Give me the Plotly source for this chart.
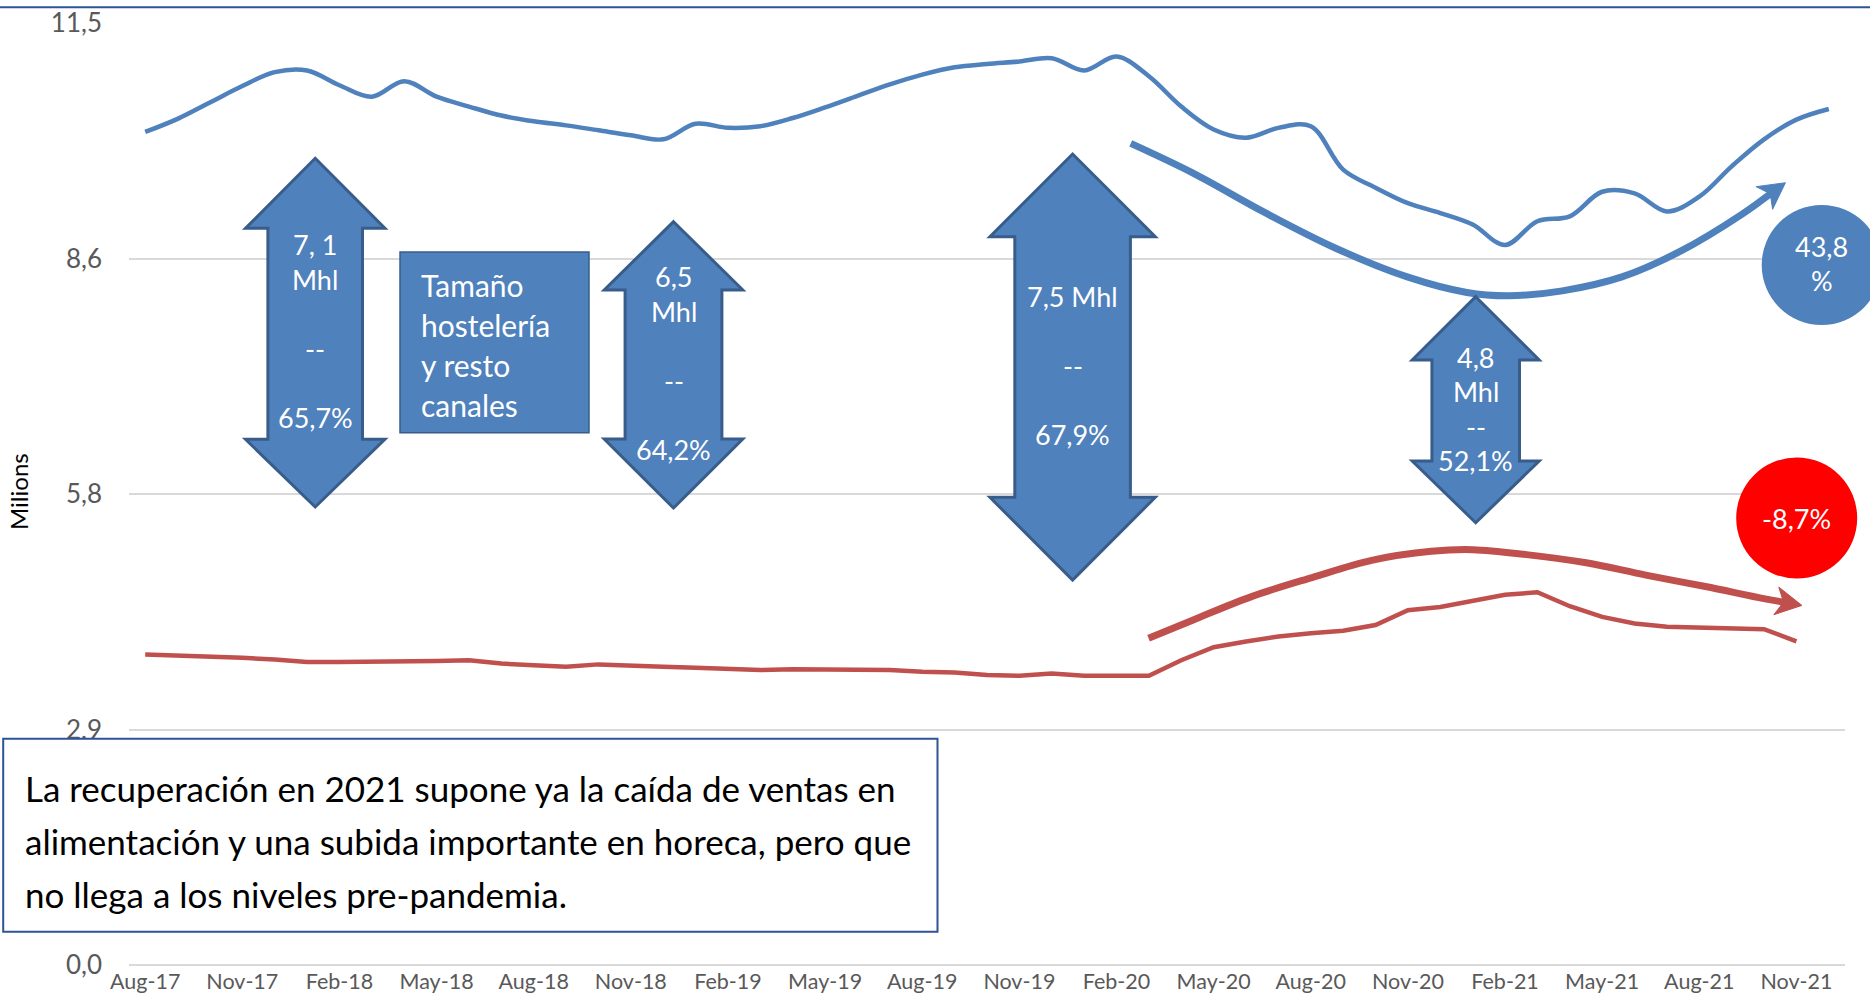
import math
import plotly.graph_objects as go

# ---------------- data ----------------
months = ["Aug-17","Sep-17","Oct-17","Nov-17","Dec-17","Jan-18","Feb-18","Mar-18","Apr-18","May-18",
          "Jun-18","Jul-18","Aug-18","Sep-18","Oct-18","Nov-18","Dec-18","Jan-19","Feb-19","Mar-19",
          "Apr-19","May-19","Jun-19","Jul-19","Aug-19","Sep-19","Oct-19","Nov-19","Dec-19","Jan-20",
          "Feb-20","Mar-20","Apr-20","May-20","Jun-20","Jul-20","Aug-20","Sep-20","Oct-20","Nov-20",
          "Dec-20","Jan-21","Feb-21","Mar-21","Apr-21","May-21","Jun-21","Jul-21","Aug-21","Sep-21",
          "Oct-21","Nov-21","Dec-21"]

hosteleria_total = [10.17, 10.33, 10.53, 10.73, 10.90, 10.92, 10.74, 10.60, 10.79, 10.60,
                    10.48, 10.37, 10.30, 10.25, 10.19, 10.13, 10.08, 10.27, 10.22, 10.24,
                    10.34, 10.47, 10.61, 10.75, 10.87, 10.96, 11.00, 11.03, 11.07, 10.92,
                    11.09, 10.85, 10.48, 10.20, 10.10, 10.22, 10.24, 9.71, 9.49, 9.30,
                    9.18, 9.04, 8.79, 9.08, 9.14, 9.44, 9.42, 9.20, 9.38, 9.75,
                    10.08, 10.32, 10.45]

alimentacion = [3.79, 3.78, 3.76, 3.75, 3.73, 3.70, 3.70, 3.70, 3.70, 3.71,
                3.72, 3.68, 3.66, 3.64, 3.67, 3.65, 3.64, 3.63, 3.62, 3.60,
                3.61, 3.61, 3.61, 3.60, 3.58, 3.57, 3.54, 3.53, 3.56, 3.53,
                3.53, 3.53, 3.72, 3.88, 3.95, 4.01, 4.05, 4.08, 4.15, 4.33,
                4.37, 4.44, 4.52, 4.55, 4.38, 4.25, 4.17, 4.13, 4.12, 4.11,
                4.10, 3.95]

# trend paths (month index, value)
blue_trend_x = [30.44, 32.35, 34.56, 36.77, 38.98, 40.82, 42.11, 43.77, 45.61, 47.45, 49.30, 50.66]
blue_trend_y = [10.03, 9.67, 9.19, 8.75, 8.40, 8.21, 8.17, 8.23, 8.40, 8.72, 9.16, 9.55]
red_trend_x = [30.99, 32.35, 34.19, 36.04, 37.88, 39.72, 41.01, 42.66, 44.51, 46.35, 48.19, 50.03, 51.17]
red_trend_y = [3.99, 4.21, 4.50, 4.73, 4.94, 5.05, 5.07, 5.01, 4.91, 4.76, 4.62, 4.47, 4.39]

y_tickvals = [0, 2.875, 5.75, 8.625, 11.5]
y_ticktext = ["0,0", "2,9", "5,8", "8,6", "11,5"]
x_tick_step = 3

arrow_texts = [["7, 1", "Mhl", "", "--", "", "65,7%"],
               ["6,5", "Mhl", "", "--", "", "64,2%"],
               ["7,5 Mhl", "", "--", "", "67,9%"],
               ["4,8", "Mhl", "--", "52,1%"]]
box_title_lines = ["Tamaño", "hostelería", "y resto", "canales"]
note_lines = ["La recuperación en 2021 supone ya la caída de ventas en",
              "alimentación y una subida importante en horeca, pero que",
              "no llega a los niveles pre-pandemia."]
blue_badge = ["43,8", "%"]
red_badge = "-8,7%"

# ---------------- layout geometry ----------------
FW, FH = 1870, 994
L, R, T, B = 129, 25, 23, 29
W, H = FW - L - R, FH - T - B
N = len(months)
YMAX = 11.5
FONT = "Lato, 'Open Sans', sans-serif"
BLUE = "#4F81BD"
BLUE_DARK = "#385D8A"
RED = "#C0504D"
NAVY = "#2F5496"


def xp(px):
    return (px - L) / W


def yp(py):
    return (T + H - py) / H


def d2px(i, v):
    return L + (i + 0.5) / N * W, T + (YMAX - v) / YMAX * H


def px2d(px, py):
    return (px - L) / W * N - 0.5, YMAX - (py - T) / H * YMAX


fig = go.Figure()

fig.add_trace(go.Scatter(x=list(range(len(hosteleria_total))), y=hosteleria_total, mode="lines",
                         line=dict(color=BLUE, width=4.5, shape="spline", smoothing=1.0),
                         hoverinfo="skip", showlegend=False))
fig.add_trace(go.Scatter(x=list(range(len(alimentacion))), y=alimentacion, mode="lines",
                         line=dict(color=RED, width=4.5),
                         hoverinfo="skip", showlegend=False))

shapes = []
annotations = []


def trend(xs, ys, color):
    # arrow head geometry computed in pixel space
    tip = d2px(xs[-1], ys[-1])
    prev = d2px(xs[-2], ys[-2])
    dxp, dyp = tip[0] - prev[0], tip[1] - prev[1]
    n = math.hypot(dxp, dyp)
    ux, uy = dxp / n, dyp / n
    nx, ny = -uy, ux
    hl, hw = 26, 14
    back = (tip[0] - ux * 12, tip[1] - uy * 12)
    bx, by = px2d(*back)
    fig.add_trace(go.Scatter(x=xs[:-1] + [bx], y=ys[:-1] + [by], mode="lines",
                             line=dict(color=color, width=7, shape="spline", smoothing=1.0),
                             hoverinfo="skip", showlegend=False))
    p1 = (tip[0] - ux * hl + nx * hw, tip[1] - uy * hl + ny * hw)
    p2 = (tip[0] - ux * hl * 0.72, tip[1] - uy * hl * 0.72)
    p3 = (tip[0] - ux * hl - nx * hw, tip[1] - uy * hl - ny * hw)
    pts = [tip, p1, p2, p3]
    path = "M " + " L ".join(f"{xp(a):.5f},{yp(b):.5f}" for a, b in pts) + " Z"
    shapes.append(dict(type="path", path=path, xref="paper", yref="paper",
                       fillcolor=color, line=dict(color=color, width=1), layer="above"))


trend(blue_trend_x, blue_trend_y, BLUE)
trend(red_trend_x, red_trend_y, RED)

# block double arrows: cx, tip_top, head_base_top, head_base_bottom, tip_bottom, head half-w, shaft half-w, first text line y
arrow_geo = [(315.2, 158.3, 228.3, 439.3, 507.0, 69.7, 47.3, 245.0),
             (673.5, 221.7, 290.0, 439.0, 508.0, 69.3, 48.4, 276.7),
             (1072.6, 154.0, 236.7, 497.3, 580.0, 82.7, 57.8, 296.0),
             (1475.7, 296.7, 360.0, 461.0, 522.7, 63.5, 43.8, 357.0)]
LINE_SP = 34.5
for (cx, t0, hb0, hb1, t1, hw, sw, ty), lines in zip(arrow_geo, arrow_texts):
    pts = [(cx, t0), (cx + hw, hb0), (cx + sw, hb0), (cx + sw, hb1), (cx + hw, hb1), (cx, t1),
           (cx - hw, hb1), (cx - sw, hb1), (cx - sw, hb0), (cx - hw, hb0)]
    path = "M " + " L ".join(f"{xp(a):.5f},{yp(b):.5f}" for a, b in pts) + " Z"
    shapes.append(dict(type="path", path=path, xref="paper", yref="paper",
                       fillcolor=BLUE, line=dict(color=BLUE_DARK, width=3), layer="above"))
    for k, s in enumerate(lines):
        if not s:
            continue
        annotations.append(dict(x=xp(cx), y=yp(ty + k * LINE_SP), xref="paper", yref="paper",
                                text=s, showarrow=False, xanchor="center", yanchor="middle",
                                font=dict(family=FONT, size=27, color="white")))

# "Tamaño" box
shapes.append(dict(type="rect", xref="paper", yref="paper", x0=xp(400), x1=xp(589), y0=yp(252), y1=yp(432.7),
                   fillcolor=BLUE, line=dict(color=BLUE_DARK, width=1.5), layer="above"))
for k, s in enumerate(box_title_lines):
    annotations.append(dict(x=xp(419), y=yp(285 + 40 * k), xref="paper", yref="paper", text=s,
                            showarrow=False, xanchor="left", yanchor="middle",
                            font=dict(family=FONT, size=30, color="white")))

# badges
shapes.append(dict(type="circle", xref="paper", yref="paper", x0=xp(1761.7), x1=xp(1881.7),
                   y0=yp(205), y1=yp(325), fillcolor=BLUE, line=dict(width=0), layer="above"))
for k, s in enumerate(blue_badge):
    annotations.append(dict(x=xp(1821.7), y=yp(246.7 + 33.5 * k), xref="paper", yref="paper", text=s,
                            showarrow=False, xanchor="center", yanchor="middle",
                            font=dict(family=FONT, size=27, color="white")))
shapes.append(dict(type="circle", xref="paper", yref="paper", x0=xp(1736.2), x1=xp(1857.2),
                   y0=yp(457.5), y1=yp(578.5), fillcolor="#FF0000", line=dict(width=0), layer="above"))
annotations.append(dict(x=xp(1796.7), y=yp(518), xref="paper", yref="paper", text=red_badge,
                        showarrow=False, xanchor="center", yanchor="middle",
                        font=dict(family=FONT, size=27, color="white")))

# note box
shapes.append(dict(type="rect", xref="paper", yref="paper", x0=xp(3.2), x1=xp(937.5), y0=yp(738.7), y1=yp(931.7),
                   fillcolor="white", line=dict(color=NAVY, width=2), layer="above"))
for k, s in enumerate(note_lines):
    annotations.append(dict(x=xp(23), y=yp(788 + 53 * k), xref="paper", yref="paper", text=s,
                            showarrow=False, xanchor="left", yanchor="middle",
                            font=dict(family=FONT, size=35, color="black")))

# top border line
shapes.append(dict(type="line", xref="paper", yref="paper", x0=xp(0), x1=xp(FW), y0=yp(7.3), y1=yp(7.3),
                   line=dict(color=NAVY, width=2), layer="above"))

# y axis title
annotations.append(dict(x=xp(18), y=yp(492), xref="paper", yref="paper", text="Milions", textangle=-90,
                        showarrow=False, xanchor="center", yanchor="middle",
                        font=dict(family=FONT, size=24, color="black")))

fig.update_layout(
    width=FW, height=FH,
    margin=dict(l=L, r=R, t=T, b=B, pad=0, autoexpand=False),
    paper_bgcolor="white", plot_bgcolor="white",
    font=dict(family=FONT),
    showlegend=False,
    shapes=shapes, annotations=annotations,
    xaxis=dict(range=[-0.5, N - 0.5], tickvals=list(range(0, N, x_tick_step)),
               ticktext=months[::x_tick_step], showgrid=False, zeroline=False, showline=False,
               ticks="", ticklabelstandoff=1, automargin=False,
               tickfont=dict(family=FONT, size=21.5, color="#595959"), fixedrange=True),
    yaxis=dict(range=[0, YMAX], tickvals=y_tickvals, ticktext=y_ticktext,
               showgrid=True, gridcolor="#D9D9D9", gridwidth=2,
               zeroline=True, zerolinecolor="#D9D9D9", zerolinewidth=2, showline=False,
               ticks="", ticklabelstandoff=26, automargin=False,
               tickfont=dict(family=FONT, size=26, color="#595959"), fixedrange=True),
)

fig.write_html("out.html", config={"displayModeBar": False},
               post_script="document.body.style.margin='0';document.body.style.overflow='hidden';")
